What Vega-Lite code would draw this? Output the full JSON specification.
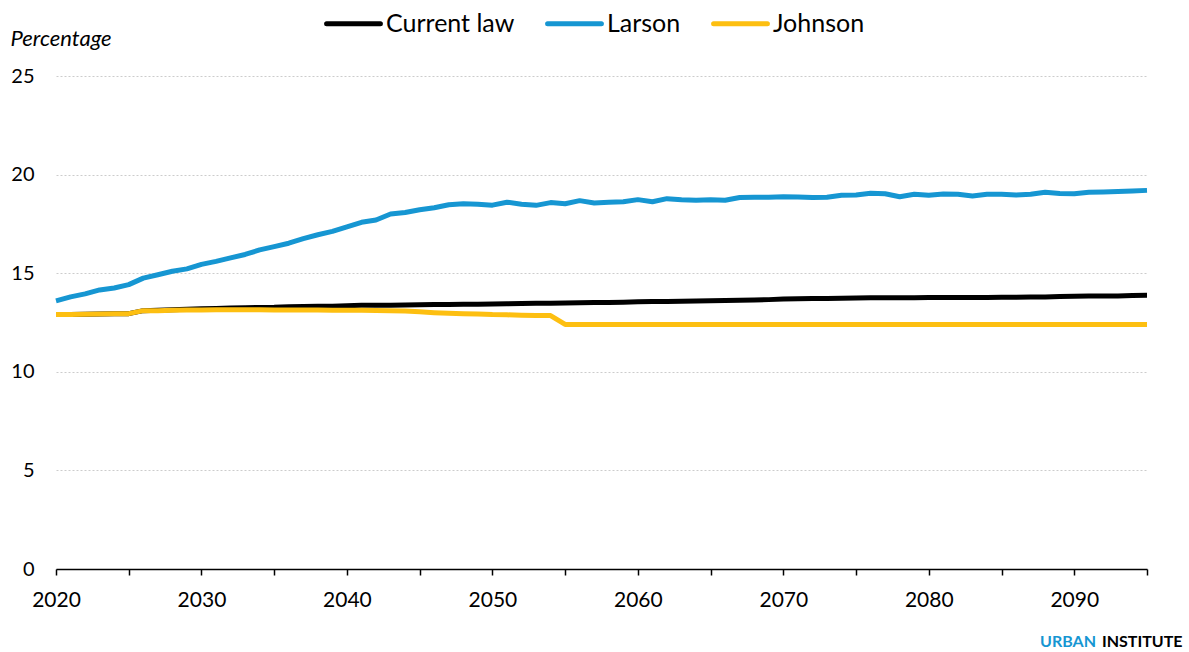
{
  "$schema": "https://vega.github.io/schema/vega-lite/v6.json",
  "width": 1091,
  "height": 493,
  "autosize": "none",
  "padding": {"left": 56, "top": 76, "right": 42, "bottom": 83},
  "background": "white",
  "config": {
    "font": "Lato",
    "view": {"stroke": null}
  },
  "datasets": {
    "rates": [
      {"year": 2020, "Current law": 12.9, "Larson": 13.6, "Johnson": 12.9},
      {"year": 2021, "Current law": 12.9, "Larson": 13.8, "Johnson": 12.9},
      {"year": 2022, "Current law": 12.92, "Larson": 13.95, "Johnson": 12.92},
      {"year": 2023, "Current law": 12.93, "Larson": 14.15, "Johnson": 12.93},
      {"year": 2024, "Current law": 12.95, "Larson": 14.25, "Johnson": 12.94},
      {"year": 2025, "Current law": 12.95, "Larson": 14.42, "Johnson": 12.95},
      {"year": 2026, "Current law": 13.1, "Larson": 14.75, "Johnson": 13.1},
      {"year": 2027, "Current law": 13.12, "Larson": 14.92, "Johnson": 13.1},
      {"year": 2028, "Current law": 13.15, "Larson": 15.1, "Johnson": 13.12},
      {"year": 2029, "Current law": 13.17, "Larson": 15.22, "Johnson": 13.13},
      {"year": 2030, "Current law": 13.2, "Larson": 15.45, "Johnson": 13.14},
      {"year": 2031, "Current law": 13.21, "Larson": 15.6, "Johnson": 13.15},
      {"year": 2032, "Current law": 13.23, "Larson": 15.78, "Johnson": 13.15},
      {"year": 2033, "Current law": 13.25, "Larson": 15.95, "Johnson": 13.15},
      {"year": 2034, "Current law": 13.26, "Larson": 16.18, "Johnson": 13.15},
      {"year": 2035, "Current law": 13.27, "Larson": 16.35, "Johnson": 13.14},
      {"year": 2036, "Current law": 13.3, "Larson": 16.52, "Johnson": 13.14},
      {"year": 2037, "Current law": 13.31, "Larson": 16.75, "Johnson": 13.13},
      {"year": 2038, "Current law": 13.32, "Larson": 16.95, "Johnson": 13.13},
      {"year": 2039, "Current law": 13.33, "Larson": 17.12, "Johnson": 13.12},
      {"year": 2040, "Current law": 13.35, "Larson": 17.35, "Johnson": 13.12},
      {"year": 2041, "Current law": 13.37, "Larson": 17.58, "Johnson": 13.12},
      {"year": 2042, "Current law": 13.37, "Larson": 17.7, "Johnson": 13.11},
      {"year": 2043, "Current law": 13.38, "Larson": 18.0, "Johnson": 13.1},
      {"year": 2044, "Current law": 13.39, "Larson": 18.08, "Johnson": 13.08},
      {"year": 2045, "Current law": 13.4, "Larson": 18.22, "Johnson": 13.04},
      {"year": 2046, "Current law": 13.41, "Larson": 18.32, "Johnson": 13.0},
      {"year": 2047, "Current law": 13.41, "Larson": 18.47, "Johnson": 12.97},
      {"year": 2048, "Current law": 13.42, "Larson": 18.52, "Johnson": 12.95},
      {"year": 2049, "Current law": 13.43, "Larson": 18.5, "Johnson": 12.93},
      {"year": 2050, "Current law": 13.44, "Larson": 18.45, "Johnson": 12.9},
      {"year": 2051, "Current law": 13.45, "Larson": 18.6, "Johnson": 12.89},
      {"year": 2052, "Current law": 13.46, "Larson": 18.5, "Johnson": 12.87},
      {"year": 2053, "Current law": 13.47, "Larson": 18.44, "Johnson": 12.86},
      {"year": 2054, "Current law": 13.48, "Larson": 18.58, "Johnson": 12.85},
      {"year": 2055, "Current law": 13.49, "Larson": 18.52, "Johnson": 12.4},
      {"year": 2056, "Current law": 13.5, "Larson": 18.68, "Johnson": 12.4},
      {"year": 2057, "Current law": 13.51, "Larson": 18.56, "Johnson": 12.4},
      {"year": 2058, "Current law": 13.52, "Larson": 18.6, "Johnson": 12.4},
      {"year": 2059, "Current law": 13.53, "Larson": 18.62, "Johnson": 12.4},
      {"year": 2060, "Current law": 13.55, "Larson": 18.73, "Johnson": 12.4},
      {"year": 2061, "Current law": 13.56, "Larson": 18.62, "Johnson": 12.4},
      {"year": 2062, "Current law": 13.57, "Larson": 18.78, "Johnson": 12.4},
      {"year": 2063, "Current law": 13.58, "Larson": 18.72, "Johnson": 12.4},
      {"year": 2064, "Current law": 13.59, "Larson": 18.7, "Johnson": 12.4},
      {"year": 2065, "Current law": 13.6, "Larson": 18.72, "Johnson": 12.4},
      {"year": 2066, "Current law": 13.62, "Larson": 18.7, "Johnson": 12.4},
      {"year": 2067, "Current law": 13.63, "Larson": 18.84, "Johnson": 12.4},
      {"year": 2068, "Current law": 13.64, "Larson": 18.85, "Johnson": 12.4},
      {"year": 2069, "Current law": 13.66, "Larson": 18.85, "Johnson": 12.4},
      {"year": 2070, "Current law": 13.69, "Larson": 18.88, "Johnson": 12.4},
      {"year": 2071, "Current law": 13.71, "Larson": 18.86, "Johnson": 12.4},
      {"year": 2072, "Current law": 13.72, "Larson": 18.84, "Johnson": 12.4},
      {"year": 2073, "Current law": 13.72, "Larson": 18.85, "Johnson": 12.4},
      {"year": 2074, "Current law": 13.73, "Larson": 18.95, "Johnson": 12.4},
      {"year": 2075, "Current law": 13.74, "Larson": 18.97, "Johnson": 12.4},
      {"year": 2076, "Current law": 13.75, "Larson": 19.05, "Johnson": 12.4},
      {"year": 2077, "Current law": 13.75, "Larson": 19.03, "Johnson": 12.4},
      {"year": 2078, "Current law": 13.76, "Larson": 18.88, "Johnson": 12.4},
      {"year": 2079, "Current law": 13.76, "Larson": 19.0, "Johnson": 12.4},
      {"year": 2080, "Current law": 13.77, "Larson": 18.95, "Johnson": 12.4},
      {"year": 2081, "Current law": 13.77, "Larson": 19.02, "Johnson": 12.4},
      {"year": 2082, "Current law": 13.77, "Larson": 19.0, "Johnson": 12.4},
      {"year": 2083, "Current law": 13.77, "Larson": 18.92, "Johnson": 12.4},
      {"year": 2084, "Current law": 13.77, "Larson": 19.0, "Johnson": 12.4},
      {"year": 2085, "Current law": 13.78, "Larson": 19.0, "Johnson": 12.4},
      {"year": 2086, "Current law": 13.78, "Larson": 18.96, "Johnson": 12.4},
      {"year": 2087, "Current law": 13.79, "Larson": 19.0, "Johnson": 12.4},
      {"year": 2088, "Current law": 13.79, "Larson": 19.1, "Johnson": 12.4},
      {"year": 2089, "Current law": 13.82, "Larson": 19.04, "Johnson": 12.4},
      {"year": 2090, "Current law": 13.83, "Larson": 19.03, "Johnson": 12.4},
      {"year": 2091, "Current law": 13.84, "Larson": 19.1, "Johnson": 12.4},
      {"year": 2092, "Current law": 13.84, "Larson": 19.12, "Johnson": 12.4},
      {"year": 2093, "Current law": 13.85, "Larson": 19.14, "Johnson": 12.4},
      {"year": 2094, "Current law": 13.87, "Larson": 19.17, "Johnson": 12.4},
      {"year": 2095, "Current law": 13.88, "Larson": 19.2, "Johnson": 12.4}
    ],
    "credit": [
      {"part": "URBAN"},
      {"part": "INSTITUTE"}
    ]
  },
  "layer": [
    {
      "data": {"name": "rates"},
      "transform": [{"fold": ["Current law", "Larson", "Johnson"], "as": ["series", "value"]}],
      "mark": {"type": "line", "strokeWidth": 5, "strokeCap": "butt", "strokeJoin": "round"},
      "encoding": {
        "x": {
          "field": "year",
          "type": "quantitative",
          "scale": {"domain": [2020, 2095], "nice": false, "zero": false},
          "axis": {
            "title": null,
            "values": [2020, 2025, 2030, 2035, 2040, 2045, 2050, 2055, 2060, 2065, 2070, 2075, 2080, 2085, 2090, 2095],
            "labelExpr": "datum.value % 10 === 0 ? datum.value : ''",
            "format": "d",
            "grid": false,
            "domainColor": "#000000",
            "domainWidth": 1.5,
            "tickColor": "#000000",
            "tickWidth": 1.5,
            "tickSize": 6,
            "labelFontSize": 21,
            "labelColor": "#000000",
            "labelPadding": 14,
            "labelFlush": false
          }
        },
        "y": {
          "field": "value",
          "type": "quantitative",
          "scale": {"domain": [0, 25], "nice": false},
          "axis": {
            "title": "Percentage",
            "titleAngle": 0,
            "titleAlign": "left",
            "titleBaseline": "alphabetic",
            "titleX": -46,
            "titleY": -31,
            "titleFontSize": 22,
            "titleFontStyle": "italic",
            "titleFontWeight": "normal",
            "titleColor": "#000000",
            "values": [0, 5, 10, 15, 20, 25],
            "domain": false,
            "ticks": false,
            "labelFontSize": 20,
            "labelColor": "#000000",
            "labelPadding": 22,
            "gridColor": "#cccccc",
            "gridDash": [2, 2],
            "gridWidth": 1
          }
        },
        "color": {
          "field": "series",
          "type": "nominal",
          "sort": ["Current law", "Larson", "Johnson"],
          "scale": {"domain": ["Current law", "Larson", "Johnson"], "range": ["#000000", "#1696d2", "#fdbf11"]},
          "legend": {
            "title": null,
            "orient": "none",
            "direction": "horizontal",
            "legendX": 268,
            "legendY": -82,
            "symbolType": "stroke",
            "symbolSize": 2900,
            "symbolStrokeWidth": 5,
            "labelFontSize": 25,
            "labelColor": "#000000",
            "labelOffset": 3,
            "columnPadding": 22,
            "padding": 0,
            "encode": {"symbols": {"update": {"strokeCap": {"value": "round"}}}}
          }
        }
      }
    },
    {
      "data": {"name": "credit"},
      "transform": [{"filter": "datum.part === 'URBAN'"}],
      "mark": {"type": "text", "align": "right", "baseline": "bottom", "fontSize": 16, "fontWeight": "bold", "color": "#1696d2", "dx": -51},
      "encoding": {
        "x": {"datum": 2095, "type": "quantitative"},
        "y": {"datum": -4.12, "type": "quantitative"},
        "text": {"field": "part"}
      }
    },
    {
      "data": {"name": "credit"},
      "transform": [{"filter": "datum.part === 'INSTITUTE'"}],
      "mark": {"type": "text", "align": "left", "baseline": "bottom", "fontSize": 16, "fontWeight": "bold", "color": "#000000", "dx": -45},
      "encoding": {
        "x": {"datum": 2095, "type": "quantitative"},
        "y": {"datum": -4.12, "type": "quantitative"},
        "text": {"field": "part"}
      }
    }
  ]
}
